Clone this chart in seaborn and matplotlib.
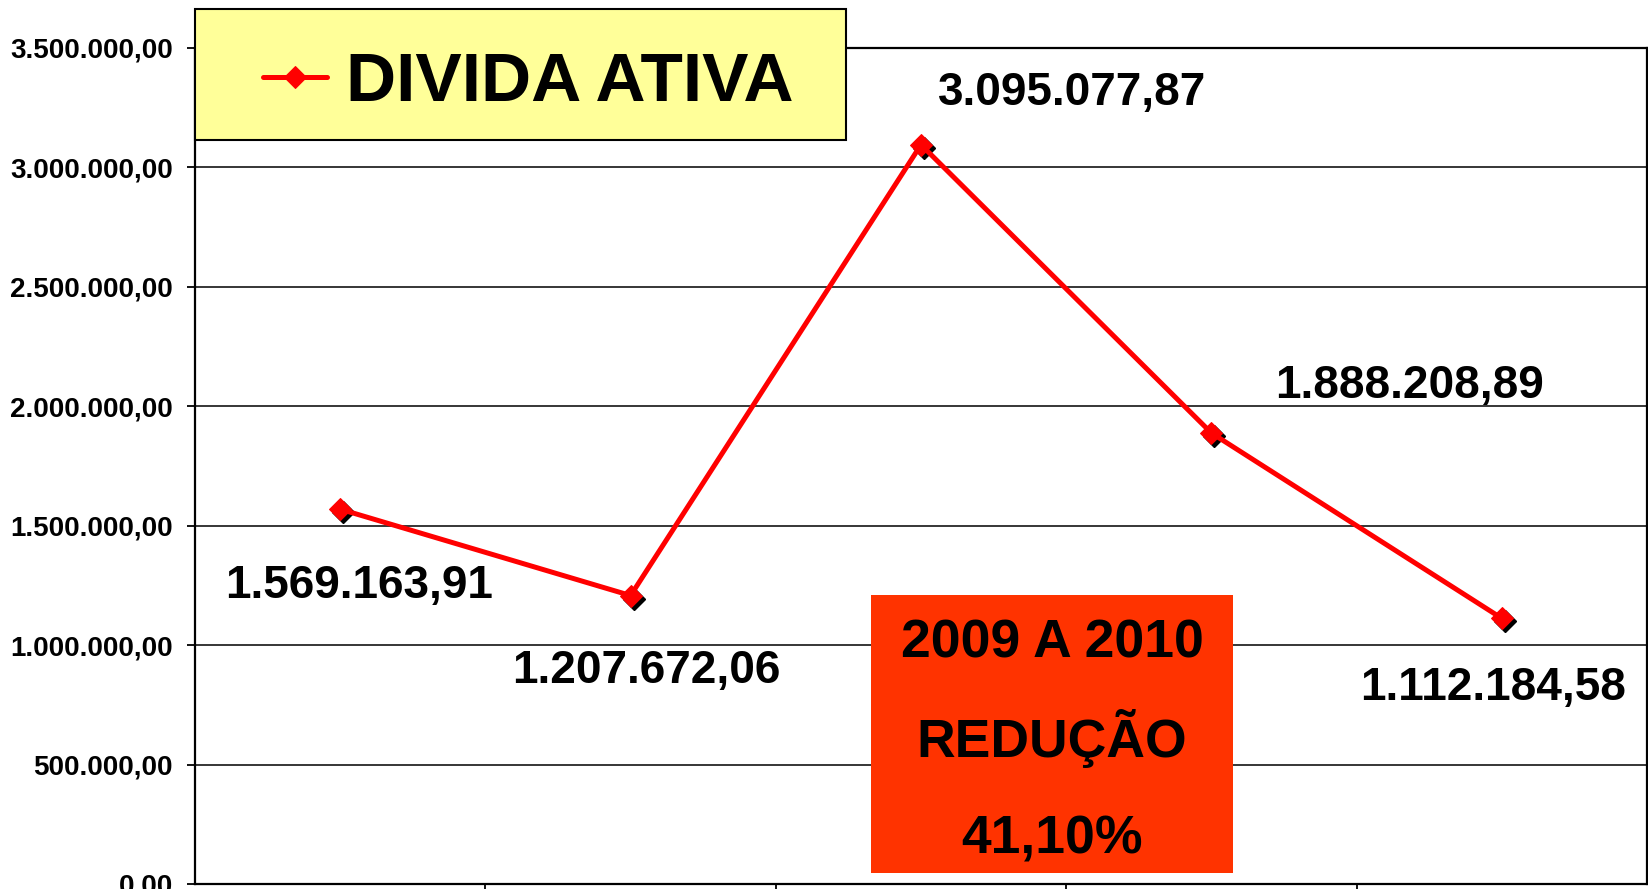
import numpy as np
import pandas as pd
import matplotlib
matplotlib.use("Agg")
import matplotlib.pyplot as plt
import seaborn as sns
from matplotlib.patches import Rectangle
from matplotlib.transforms import offset_copy
from matplotlib.ticker import FixedLocator, FuncFormatter

# ---- data ----
anos = ["2006", "2007", "2008", "2009", "2010"]
divida_ativa = [1569163.91, 1207672.06, 3095077.87, 1888208.89, 1112184.58]
serie_nome = "DIVIDA ATIVA"
y_ticks = [0, 500000, 1000000, 1500000, 2000000, 2500000, 3000000, 3500000]
nota_linhas = ["2009 A 2010", "REDUÇÃO", "41,10%"]

# label offsets in pixels (style/position only)
label_offsets = [(19, -77), (16, -75), (151, 52), (198, 47), (-9, -70)]


def br(v):
    s = f"{v:,.2f}"
    return s.replace(",", "X").replace(".", ",").replace("X", ".")


sns.set_theme(style="white")
plt.rcParams["font.family"] = ["Liberation Sans", "DejaVu Sans"]
plt.rcParams["font.weight"] = "bold"
plt.rcParams["text.color"] = "black"
plt.rcParams["ytick.labelcolor"] = "black"
plt.rcParams["xtick.labelcolor"] = "black"

W, H = 1649, 889
fig = plt.figure(figsize=(W / 100, H / 100), dpi=100)
fig.patch.set_facecolor("white")
ax = fig.add_axes([195 / W, 5 / H, (1647 - 195) / W, (884 - 48) / H])
ax.set_facecolor("white")

df = pd.DataFrame({"pos": np.arange(len(anos)), "valor": divida_ativa, "ano": anos})

# shadow markers
shadow = offset_copy(ax.transData, fig=fig, x=3, y=-3, units="dots")
ax.plot(df["pos"], df["valor"], ls="none", marker="D", ms=11, color="black",
        transform=shadow, zorder=3)

sns.lineplot(data=df, x="pos", y="valor", ax=ax, color="#FF0000", lw=3.6,
             marker="D", ms=11, mec="#FF0000", mfc="#FF0000", zorder=4)
line = ax.lines[-1]

ax.set_xlim(-0.5, len(anos) - 0.5)
ax.set_ylim(0, 3500000)
ax.set_xlabel("")
ax.set_ylabel("")

ax.yaxis.set_major_locator(FixedLocator(y_ticks))
ax.yaxis.set_major_formatter(FuncFormatter(lambda v, p: br(v)))
ax.xaxis.set_major_locator(FixedLocator(np.arange(len(anos) - 1) + 0.5))
ax.set_xticklabels([])
ax.tick_params(axis="y", which="major", direction="out", length=5.8, width=1.3,
               color="black", pad=10, labelsize=20, left=True, labelcolor="black")
ax.tick_params(axis="x", which="major", direction="out", length=6, width=1.3,
               color="black", bottom=True)
for lab in ax.get_yticklabels():
    lab.set_fontweight("bold")

ax.grid(axis="y", color="black", lw=1.1)
ax.grid(axis="x", visible=False)
for s in ax.spines.values():
    s.set_visible(True)
    s.set_color("black")
    s.set_linewidth(1.6)

# data labels
for (x, y), (dx, dy) in zip(zip(df["pos"], df["valor"]), label_offsets):
    ax.annotate(br(y), xy=(x, y), xytext=(dx, dy), textcoords="offset pixels",
                ha="center", va="center", fontsize=33, fontweight="bold",
                color="black", zorder=6)

# legend box
leg_box = Rectangle((195 / W, 1 - 140 / H), 651 / W, 131 / H,
                    transform=fig.transFigure, facecolor="#FFFF99",
                    edgecolor="black", lw=1.5, zorder=5)
fig.patches.append(leg_box)
leg = fig.legend(handles=[line], labels=[serie_nome], frameon=False,
                 loc="center left", bbox_to_anchor=(263 / W, 1 - 83 / H),
                 borderpad=0, borderaxespad=0, handlelength=0.92,
                 handletextpad=0.27, prop={"size": 50, "weight": "bold"},
                 labelcolor="black")
leg.set_zorder(6)

# note box
nota_box = Rectangle((871 / W, 1 - 873 / H), 362 / W, 278 / H,
                     transform=fig.transFigure, facecolor="#FF3300",
                     edgecolor="none", zorder=5)
fig.patches.append(nota_box)
for txt, yy in zip(nota_linhas, [644, 739, 839]):
    fig.text(1052 / W, 1 - yy / H, txt, ha="center", va="center", fontsize=38.5,
             fontweight="bold", color="black", zorder=6)

fig.savefig("out.png", dpi=100)
